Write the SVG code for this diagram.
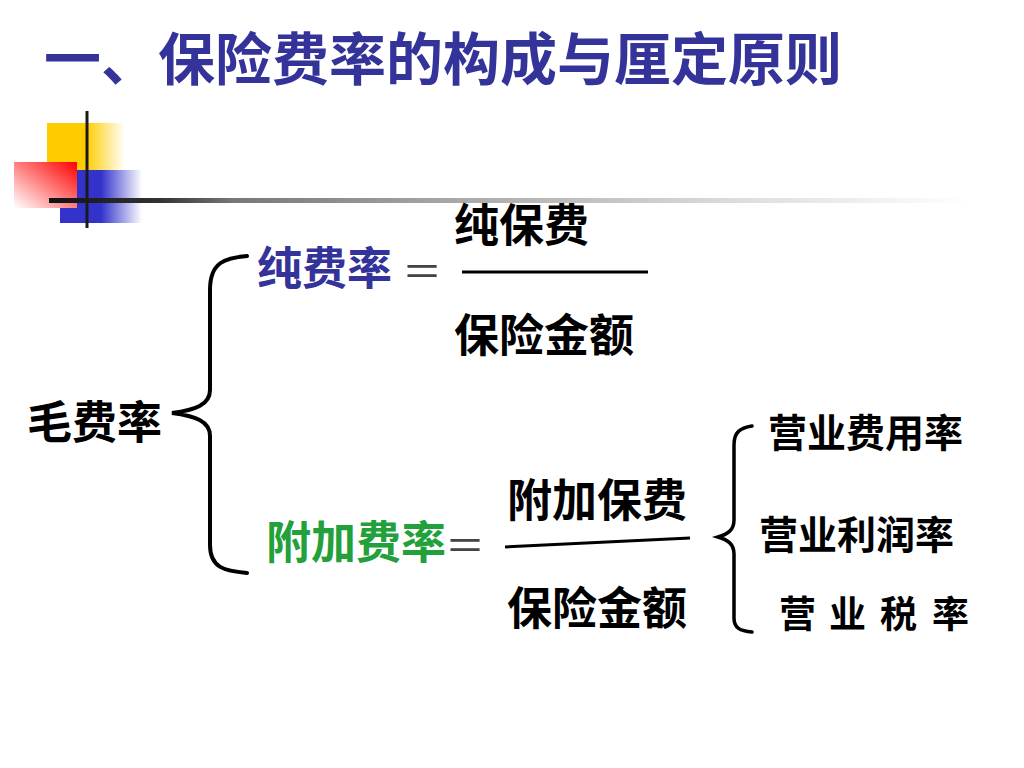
<svg xmlns="http://www.w3.org/2000/svg" width="1024" height="768" viewBox="0 0 1024 768">
<style>
text{font-family:"Noto Sans CJK SC","Liberation Sans",sans-serif;font-weight:bold;}
.title{font-size:57px;fill:#333399;}
.blk{font-size:45px;fill:#000;}
.sm{font-size:39px;fill:#000;}
.eq{font-weight:normal;font-size:40px;fill:#444;}
.brace{fill:none;stroke:#000;stroke-width:4;stroke-linecap:round;}
.frac{stroke:#000;stroke-width:3;}
</style>
<defs>
<linearGradient id="gY" x1="0" y1="0" x2="1" y2="0"><stop offset="0" stop-color="#FFCC00"/><stop offset="0.5" stop-color="#FFCC00"/><stop offset="1" stop-color="#FFCC00" stop-opacity="0"/></linearGradient>
<linearGradient id="gB" x1="0" y1="0" x2="1" y2="0"><stop offset="0" stop-color="#3333CC"/><stop offset="0.5" stop-color="#3333CC"/><stop offset="1" stop-color="#3333CC" stop-opacity="0"/></linearGradient>
<linearGradient id="gR" x1="1" y1="0" x2="0" y2="1"><stop offset="0" stop-color="#FF0000"/><stop offset="1" stop-color="#FFFFFF"/></linearGradient>
<linearGradient id="gL" x1="49" y1="0" x2="970" y2="0" gradientUnits="userSpaceOnUse"><stop offset="0" stop-color="#111"/><stop offset="0.12" stop-color="#333"/><stop offset="0.2" stop-color="#777"/><stop offset="0.45" stop-color="#aaa"/><stop offset="0.75" stop-color="#ddd"/><stop offset="1" stop-color="#fff"/></linearGradient>
</defs>
<rect width="1024" height="768" fill="#fff"/>
<g id="decoration">
<rect x="47" y="123" width="78" height="47" fill="url(#gY)"/>
<rect x="60" y="170" width="82" height="53" fill="url(#gB)"/>
<rect x="14" y="162" width="63" height="46" fill="url(#gR)"/>
<rect x="49" y="198" width="921" height="5" fill="url(#gL)"/>
<line x1="87" y1="111" x2="87" y2="228" stroke="#1a1a1a" stroke-width="3"/>
</g>
<g id="title"><text class="title" x="44" y="80">一、保险费率的构成与厘定原则</text></g>
<g id="connectors">
<path class="brace" d="M247,256 C225,258 210,262 210,290 L210,390 C210,405 195,410 172,413 C195,416 210,421 210,436 L210,545 C210,568 225,571 247,573"/>
<path class="brace" style="stroke-width:3.5" d="M752,426 C740,428 734,432 734,445 L734,520 C734,530 728,534 718,537 C728,540 734,544 734,554 L734,618 C734,628 740,631 752,632"/>
<line class="frac" x1="462" y1="272" x2="648" y2="272"/>
<line class="frac" x1="505" y1="547" x2="690" y2="538"/>
</g>
<g id="node-gross"><text class="blk" x="27" y="439">毛费率</text></g>
<g id="node-pure">
<text x="257" y="285" style="font-size:45px;fill:#333399">纯费率</text>
<text class="eq" x="402" y="286">＝</text>
<text class="blk" x="454" y="242">纯保费</text>
<text class="blk" x="454" y="352">保险金额</text>
</g>
<g id="node-loading">
<text x="266" y="559" style="font-size:45px;fill:#22A03C">附加费率</text>
<text class="eq" x="445" y="560">＝</text>
<text class="blk" x="507" y="517">附加保费</text>
<text class="blk" x="507" y="625">保险金额</text>
</g>
<g id="node-expense"><text class="sm" x="768" y="447">营业费用率</text></g>
<g id="node-profit"><text class="sm" x="759" y="549">营业利润率</text></g>
<g id="node-tax"><text class="sm" x="779" y="628" style="font-size:37px"><tspan x="779">营</tspan><tspan x="829">业</tspan><tspan x="880">税</tspan><tspan x="932">率</tspan></text></g>
</svg>
